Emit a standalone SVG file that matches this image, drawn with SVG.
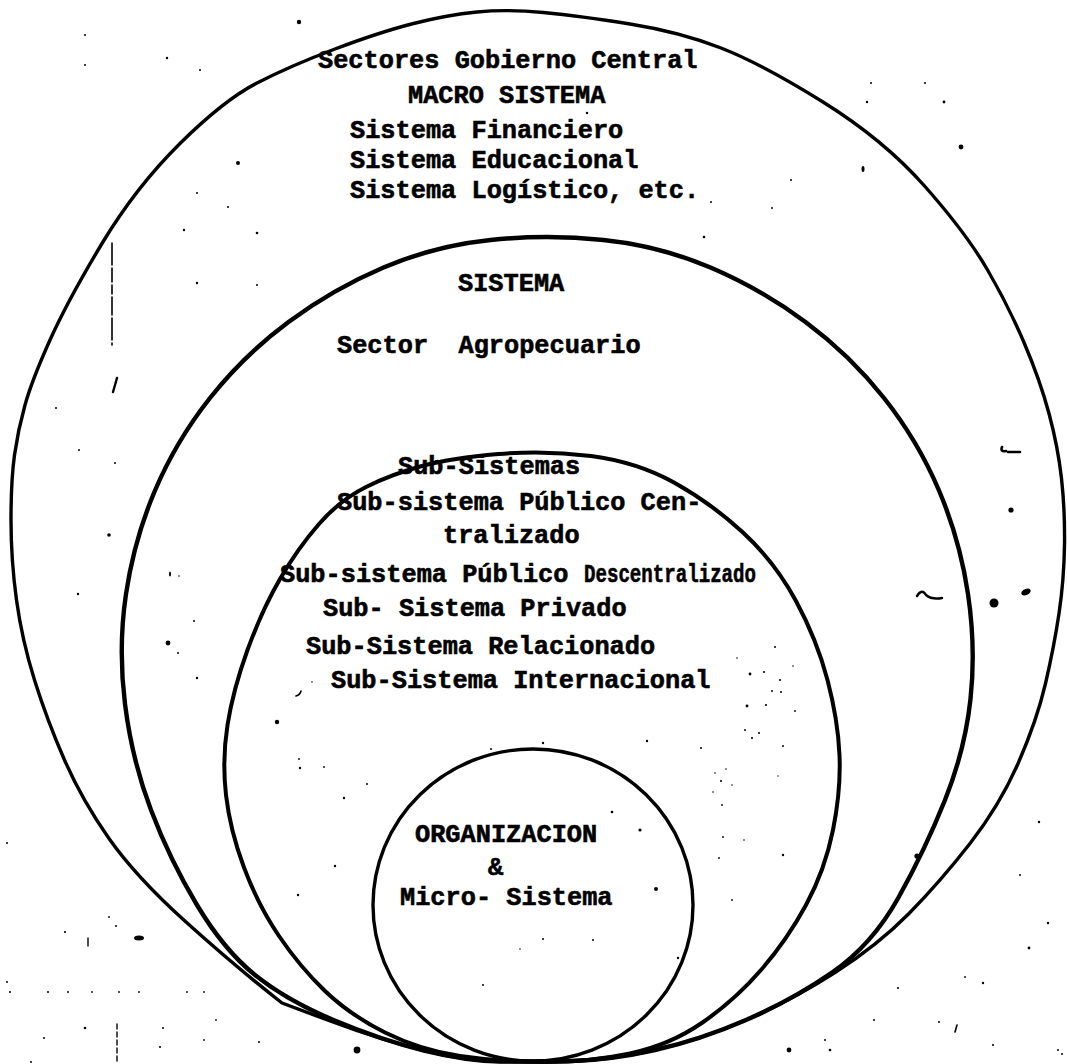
<svg xmlns="http://www.w3.org/2000/svg" width="1067" height="1064" viewBox="0 0 1067 1064">
  <style>
    .ring { fill: none; stroke: #000; stroke-linejoin: round; stroke-linecap: round; }
    .t { font-family: "Liberation Mono", "Courier New", monospace; font-weight: bold; font-size: 25.3px; fill: #000; stroke: #000; stroke-width: 0.6px; }
    .speck { fill: #000; }
    .mark { fill: none; stroke: #000; stroke-linecap: round; }
  </style>
  <rect width="1067" height="1064" fill="#fff"/>

  <!-- outermost ring: central government sectors / macro system -->
  <g id="macro-sistema">
    <path class="ring" stroke-width="3.4" d="M543.5,12.5 Q580,16 630,24 Q680,32 721,48 Q762,64 823,102 Q884,140 925,186.5 Q966,233 987,269 Q1008,305 1024,342.5 Q1040,380 1049,413.5 Q1058,447 1061.5,478.5 Q1065,510 1064.5,545 Q1064,580 1059,613.5 Q1054,647 1045.5,683.5 Q1037,720 1018.5,762.5 Q1000,805 970,843.5 Q940,882 909,913.5 Q878,945 835,972.5 Q792,1000 746,1020 Q700,1040 655,1050 Q610,1060 571.5,1061 Q533,1062 500,1061.5 Q467,1061 424,1050.5 Q381,1040 331.5,1021.5 L282,1003 Q236,967 186,922 Q136,877 109,838.5 Q82,800 64.5,760 Q47,720 34.5,680 Q22,640 16.5,600 Q11,560 11,520 Q11,480 14.5,455 Q18,430 25,405 Q32,380 50,340 Q68,300 102,243.5 Q136,187 180,143.5 Q224,100 257,83 Q290,66 335,49 Q380,32 413.5,23.5 Q447,15 477,12 Q507,9 543.5,12.5 Z"/>
    <text class="t" x="318" y="68">Sectores Gobierno Central</text>
    <text class="t" x="408" y="103">MACRO SISTEMA</text>
    <text class="t" x="350" y="138">Sistema Financiero</text>
    <text class="t" x="350" y="168">Sistema Educacional</text>
    <text class="t" x="350" y="198">Sistema Logístico, etc.</text>
  </g>

  <!-- second ring: system / agricultural sector -->
  <g id="sistema">
    <path class="ring" stroke-width="4.4" d="M603.5,240 Q660,246 710.5,267.5 Q761,289 805.5,322 Q850,355 884,398 Q918,441 939,490.5 Q960,540 968,594 Q976,648 970.5,699 Q965,750 945,800 Q925,850 898.5,897.5 Q872,945 832,972.5 Q792,1000 746,1020 Q700,1040 655,1050 Q610,1060 571.5,1061 Q533,1062 500,1061.5 Q467,1061 424,1050.5 Q381,1040 333.5,1020 Q286,1000 255,975 Q224,950 197,905 Q170,860 151,810 Q132,760 125,704 Q118,648 126,594 Q134,540 155,490.5 Q176,441 210,398 Q244,355 288.5,322 Q333,289 383.5,267.5 Q434,246 490.5,240 Q547,234 603.5,240 Z"/>
    <text class="t" x="458" y="291">SISTEMA</text>
    <text class="t" x="337" y="353" xml:space="preserve">Sector  Agropecuario</text>
  </g>

  <!-- third ring: sub-systems -->
  <g id="sub-sistemas">
    <path class="ring" stroke-width="4" d="M591,456 Q637,462 674,482.5 Q711,503 743,532.5 Q775,562 796,601 Q817,640 827.5,680 Q838,720 839.5,755 Q841,790 833,830 Q825,870 806,905 Q787,940 761,970 Q735,1000 702.5,1022.5 Q670,1045 630,1053.5 Q590,1062 545,1062 Q500,1062 460,1056 Q420,1050 385,1032.5 Q350,1015 325,991 Q300,967 279,936 Q258,905 244,867.5 Q230,830 226,795 Q222,760 227.5,725 Q233,690 247.5,650 Q262,610 280,579 Q298,548 319,524 Q340,500 366,487 Q392,474 422,466 Q452,458 498.5,454 Q545,450 591,456 Z"/>
    <text class="t" x="398" y="474">Sub-Sistemas</text>
    <text class="t" x="337" y="510">Sub-sistema Público Cen-</text>
    <text class="t" x="443" y="543">tralizado</text>
    <text class="t" x="280" y="582">Sub-sistema Público <tspan x="584" textLength="172" lengthAdjust="spacingAndGlyphs">Descentralizado</tspan></text>
    <text class="t" x="323" y="616">Sub- Sistema Privado</text>
    <text class="t" x="306" y="654">Sub-Sistema Relacionado</text>
    <text class="t" x="331" y="688">Sub-Sistema Internacional</text>
  </g>

  <!-- innermost ring: organisation / micro system -->
  <g id="organizacion">
    <ellipse class="ring" stroke-width="3.4" cx="533" cy="905" rx="160" ry="156"/>
    <text class="t" x="415" y="842">ORGANIZACION</text>
    <text class="t" x="488" y="875">&amp;</text>
    <text class="t" x="400" y="905">Micro- Sistema</text>
  </g>

  <!-- loose pencil marks and specks on the sheet -->
  <g id="specks">
    <path class="mark" stroke-width="1.6" stroke-dasharray="22 3 14 3 9 3 18 3" d="M112,243 L112,345"/>
    <path class="mark" stroke-width="2.4" d="M113,392 L117,378"/>
    <path class="mark" stroke-width="2.6" d="M1002,447 Q1000,452 1006,451 M1008,452 L1020,452"/>
    <path class="mark" stroke-width="2.4" d="M917,596 Q922,588 926,595 Q932,600 942,598"/>
    <ellipse class="speck" cx="1026" cy="592" rx="5" ry="3" transform="rotate(-25 1026 592)"/>
    <ellipse class="speck" cx="139" cy="938" rx="5" ry="2.5"/>
    <circle class="speck" cx="994" cy="603" r="4.5"/>
    <circle class="speck" cx="1011" cy="510" r="2.6"/>
    <circle class="speck" cx="961" cy="147" r="2.4"/>
    <ellipse class="speck" cx="863" cy="169" rx="1.5" ry="3"/>
    <circle class="speck" cx="299" cy="22" r="2.2"/>
    <circle class="speck" cx="238" cy="163" r="2"/>
    <circle class="speck" cx="168" cy="643" r="2.4"/>
    <circle class="speck" cx="109" cy="535" r="1.8"/>
    <circle class="speck" cx="277" cy="722" r="2.2"/>
    <circle class="speck" cx="357" cy="1050" r="3.4"/>
    <circle class="speck" cx="789" cy="1050" r="2.4"/>
    <circle class="speck" cx="917" cy="856" r="2.6"/>
    <circle class="speck" cx="656" cy="889" r="2"/>
    <circle class="speck" cx="640" cy="830" r="1.6"/>
    <circle class="speck" cx="612" cy="812" r="1.3"/>
    <circle class="speck" cx="543" cy="743" r="1.2"/>
    <circle class="speck" cx="647" cy="741" r="1.2"/>
    <circle class="speck" cx="491" cy="749" r="1"/>
    <circle class="speck" cx="587" cy="113" r="1.2"/>
    <circle class="speck" cx="704" cy="237" r="1.3"/>
    <circle class="speck" cx="711" cy="202" r="1"/>
    <circle class="speck" cx="772" cy="208" r="1"/>
    <circle class="speck" cx="871" cy="83" r="1"/>
    <circle class="speck" cx="925" cy="83" r="1"/>
    <circle class="speck" cx="867" cy="102" r="1.2"/>
    <circle class="speck" cx="944" cy="102" r="1.4"/>
    <circle class="speck" cx="791" cy="180" r="1"/>
    <circle class="speck" cx="85" cy="35" r="1"/>
    <circle class="speck" cx="167" cy="58" r="1.2"/>
    <circle class="speck" cx="85" cy="65" r="1"/>
    <circle class="speck" cx="200" cy="70" r="1"/>
    <circle class="speck" cx="197" cy="193" r="1"/>
    <circle class="speck" cx="228" cy="207" r="1"/>
    <circle class="speck" cx="184" cy="230" r="1.2"/>
    <circle class="speck" cx="257" cy="233" r="1.3"/>
    <circle class="speck" cx="197" cy="283" r="1.2"/>
    <circle class="speck" cx="257" cy="285" r="1"/>
    <circle class="speck" cx="56" cy="408" r="1"/>
    <circle class="speck" cx="79" cy="450" r="1"/>
    <circle class="speck" cx="115" cy="463" r="1"/>
    <circle class="speck" cx="78" cy="594" r="1.2"/>
    <ellipse class="speck" cx="170" cy="574" rx="1" ry="2.5"/>
    <circle class="speck" cx="179" cy="576" r="0.8"/>
    <circle class="speck" cx="194" cy="621" r="1"/>
    <circle class="speck" cx="178" cy="653" r="1"/>
    <circle class="speck" cx="197" cy="678" r="1.2"/>
    <circle class="speck" cx="312" cy="682" r="0.8"/>
    <path class="mark" stroke-width="1.6" d="M301,691 Q300,695 296,696"/>
    <circle class="speck" cx="299" cy="759" r="0.9"/>
    <circle class="speck" cx="300" cy="768" r="1.2"/>
    <circle class="speck" cx="324" cy="767" r="0.9"/>
    <circle class="speck" cx="367" cy="784" r="1"/>
    <circle class="speck" cx="344" cy="798" r="1.2"/>
    <circle class="speck" cx="335" cy="866" r="1.2"/>
    <circle class="speck" cx="298" cy="895" r="1.2"/>
    <circle class="speck" cx="775" cy="647" r="1"/>
    <circle class="speck" cx="737" cy="658" r="0.8"/>
    <circle class="speck" cx="793" cy="666" r="0.8"/>
    <circle class="speck" cx="750" cy="674" r="1.4"/>
    <circle class="speck" cx="764" cy="672" r="1.1"/>
    <circle class="speck" cx="780" cy="680" r="1.1"/>
    <circle class="speck" cx="772" cy="691" r="1"/>
    <circle class="speck" cx="781" cy="692" r="1"/>
    <circle class="speck" cx="747" cy="706" r="1.4"/>
    <circle class="speck" cx="766" cy="705" r="1.1"/>
    <circle class="speck" cx="795" cy="711" r="0.9"/>
    <circle class="speck" cx="745" cy="730" r="1"/>
    <circle class="speck" cx="752" cy="738" r="1.1"/>
    <circle class="speck" cx="759" cy="733" r="1.1"/>
    <circle class="speck" cx="783" cy="746" r="1"/>
    <circle class="speck" cx="701" cy="748" r="1"/>
    <circle class="speck" cx="726" cy="769" r="0.8"/>
    <circle class="speck" cx="715" cy="773" r="0.8"/>
    <circle class="speck" cx="721" cy="781" r="1.1"/>
    <circle class="speck" cx="732" cy="785" r="0.8"/>
    <circle class="speck" cx="713" cy="792" r="0.8"/>
    <circle class="speck" cx="778" cy="776" r="0.7"/>
    <circle class="speck" cx="722" cy="805" r="0.9"/>
    <circle class="speck" cx="723" cy="837" r="0.9"/>
    <circle class="speck" cx="744" cy="840" r="0.8"/>
    <circle class="speck" cx="719" cy="858" r="0.9"/>
    <circle class="speck" cx="783" cy="855" r="1.2"/>
    <circle class="speck" cx="732" cy="900" r="0.9"/>
    <circle class="speck" cx="543" cy="939" r="1"/>
    <circle class="speck" cx="593" cy="940" r="1"/>
    <circle class="speck" cx="520" cy="949" r="0.8"/>
    <circle class="speck" cx="483" cy="985" r="1"/>
    <circle class="speck" cx="678" cy="958" r="1.2"/>
    <circle class="speck" cx="1039" cy="822" r="1.2"/>
    <circle class="speck" cx="1020" cy="875" r="1"/>
    <circle class="speck" cx="1048" cy="923" r="1.2"/>
    <circle class="speck" cx="1029" cy="948" r="1.4"/>
    <circle class="speck" cx="983" cy="983" r="1.2"/>
    <circle class="speck" cx="965" cy="977" r="0.9"/>
    <circle class="speck" cx="898" cy="988" r="1.1"/>
    <path class="mark" stroke-width="1.6" d="M955,1032 L957,1025"/>
    <circle class="speck" cx="874" cy="1020" r="1"/>
    <circle class="speck" cx="939" cy="1022" r="1"/>
    <circle class="speck" cx="993" cy="1045" r="1.1"/>
    <circle class="speck" cx="825" cy="1040" r="1"/>
    <circle class="speck" cx="830" cy="1050" r="1.3"/>
    <circle class="speck" cx="1058" cy="1050" r="1"/>
    <circle class="speck" cx="1062" cy="1054" r="1"/>
    <circle class="speck" cx="7" cy="843" r="1"/>
    <circle class="speck" cx="65" cy="932" r="1.1"/>
    <path class="mark" stroke-width="1.4" d="M88,938 L88,946"/>
    <circle class="speck" cx="109" cy="917" r="0.9"/>
    <circle class="speck" cx="116" cy="926" r="1"/>
    <circle class="speck" cx="7" cy="982" r="1"/>
    <circle class="speck" cx="10" cy="992" r="1"/>
    <circle class="speck" cx="48" cy="992" r="1"/>
    <circle class="speck" cx="68" cy="992" r="1"/>
    <circle class="speck" cx="92" cy="992" r="0.9"/>
    <circle class="speck" cx="119" cy="992" r="0.9"/>
    <circle class="speck" cx="139" cy="992" r="0.9"/>
    <circle class="speck" cx="187" cy="992" r="0.9"/>
    <circle class="speck" cx="204" cy="992" r="0.9"/>
    <circle class="speck" cx="85" cy="1028" r="1.3"/>
    <path class="mark" stroke-width="1.4" stroke-dasharray="5 3" d="M117,1024 L117,1064"/>
    <circle class="speck" cx="44" cy="1038" r="1"/>
    <circle class="speck" cx="163" cy="1028" r="1"/>
    <circle class="speck" cx="160" cy="1047" r="1.1"/>
    <circle class="speck" cx="216" cy="1020" r="0.9"/>
    <circle class="speck" cx="204" cy="1040" r="0.9"/>
    <circle class="speck" cx="259" cy="1042" r="1"/>
    <circle class="speck" cx="31" cy="1062" r="1"/>
  </g>
</svg>
